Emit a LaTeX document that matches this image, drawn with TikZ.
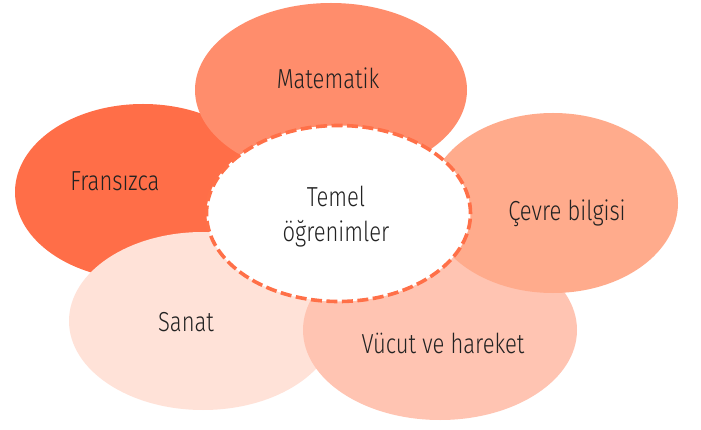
\documentclass[tikz,border=0pt]{standalone}
\usepackage{fontspec}
\IfFontExistsTF{Fira Sans Light}
  {\setmainfont{Fira Sans Light}[FakeStretch=0.8]}
  {\setmainfont{Fira Sans}[FakeStretch=0.8]}
\usetikzlibrary{shapes.geometric}
\definecolor{cFr}{HTML}{FF6E48}
\definecolor{cMa}{HTML}{FF8D6C}
\definecolor{cCe}{HTML}{FFAB8C}
\definecolor{cVu}{HTML}{FFC4B2}
\definecolor{cSa}{HTML}{FFE2D8}
\definecolor{cDash}{HTML}{FF7048}
\definecolor{txt}{HTML}{222222}
\begin{document}
\begin{tikzpicture}[x=1pt,y=-1pt,
  petal/.style={ellipse, inner sep=0pt, draw=none},
  lbl/.style={text=txt, font=\fontsize{27.5}{35}\selectfont, align=center, inner sep=0pt}]
\useasboundingbox[fill=white] (0,0) rectangle (701,430);
\node[petal, fill=cFr, minimum width=256pt, minimum height=176pt] (fr) at (143,192) {};
\node[petal, fill=cSa, minimum width=268pt, minimum height=178pt] (sa) at (203,321) {};
\node[petal, fill=cVu, minimum width=274pt, minimum height=180pt] (vu) at (440,330) {};
\node[petal, fill=cCe, minimum width=250pt, minimum height=180pt] (ce) at (553,203) {};
\node[petal, fill=cMa, minimum width=272pt, minimum height=174pt] (ma) at (331,90) {};
\node[ellipse, inner sep=0pt, fill=white, draw=cDash, line width=3.6pt,
      dash pattern=on 11pt off 4.5pt, minimum width=264pt, minimum height=176pt] (core) at (338.5,213.5) {};
\node[lbl, anchor=base] (tma) at (328,89) {Matematik};
\node[lbl, anchor=base] (tfr) at (115,191) {Fransızca};
\node[lbl, anchor=base] (tce) at (567,221) {Çevre bilgisi};
\node[lbl, anchor=base] (tsa) at (186,331) {Sanat};
\node[lbl, anchor=base] (tvu) at (443,353) {Vücut ve hareket};
\node[lbl] (tco) at (336,217) {Temel\\öğrenimler};
\end{tikzpicture}
\end{document}
